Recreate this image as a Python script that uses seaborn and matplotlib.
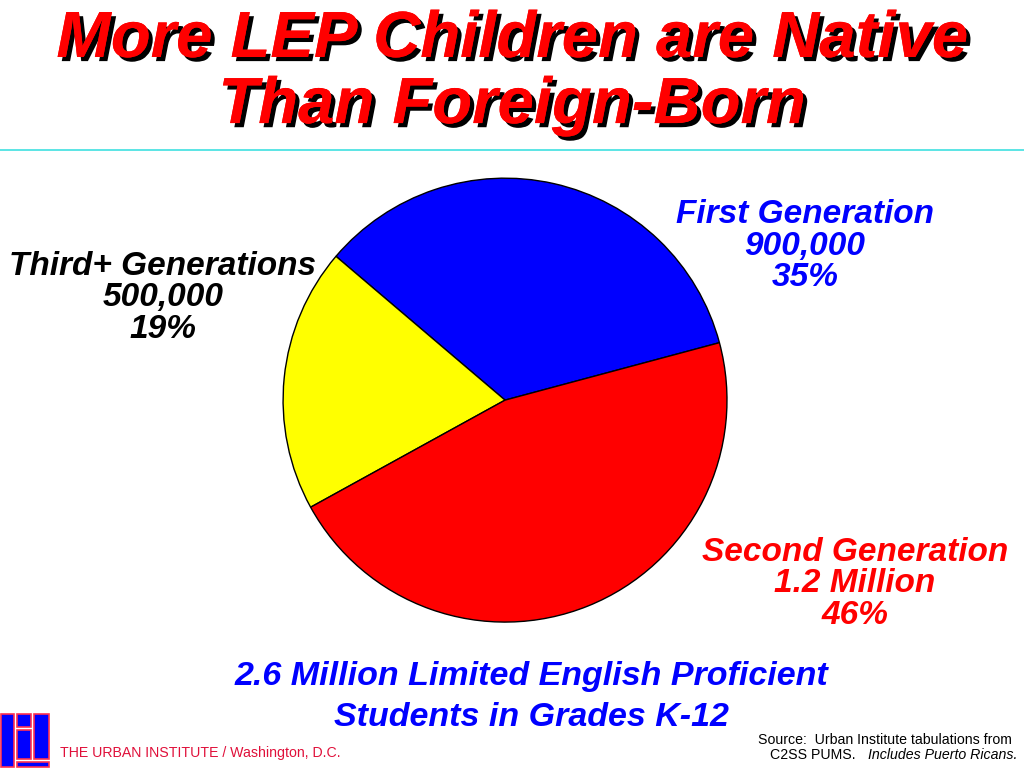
import matplotlib
matplotlib.use("Agg")
import matplotlib.pyplot as plt
import matplotlib.patheffects as pe
from matplotlib.patches import Rectangle
import seaborn as sns

sns.set_theme(style="white")
plt.rcParams['font.family'] = ['Liberation Sans', 'DejaVu Sans']

# data
groups = ["First Generation", "Third+ Generations", "Second Generation"]
counts = [900000, 500000, 1200000]
count_labels = ["900,000", "500,000", "1.2 Million"]
pct_labels = ["35%", "19%", "46%"]
colors = ["#0000ff", "#ffff00", "#ff0000"]
text_colors = ["#0000ff", "black", "#ff0000"]

fig = plt.figure(figsize=(10.24, 7.68), dpi=100)
fig.patch.set_facecolor("white")

# title with drop shadow
title = fig.text(0.5, 1 - 73/768, "More LEP Children are Native\nThan Foreign-Born",
                 ha="center", va="center", fontsize=47, fontweight="bold",
                 fontstyle="italic", color="#ff0000", linespacing=1.13)
title.set_path_effects([pe.withSimplePatchShadow(offset=(3, -3), shadow_rgbFace="black", alpha=1.0),
                        pe.Normal()])

# cyan rule under the title
fig.add_artist(plt.Line2D([0, 1], [1 - 150/768, 1 - 150/768], color="#40e0e0", lw=1.2))

# pie
ax = fig.add_axes([0.2764, 0.190, 0.4336, 0.578])
ax.pie(counts, colors=colors, startangle=15, counterclock=True,
       wedgeprops=dict(edgecolor="black", linewidth=1))
ax.set_xlim(-1, 1)
ax.set_ylim(-1, 1)
ax.set_aspect("equal")
ax.axis("off")

# slice labels
label_pos = [(805/1024, 1 - 246/768), (163/1024, 1 - 298/768), (855/1024, 1 - 584/768)]
for (x, y), g, c, p, tc in zip(label_pos, groups, count_labels, pct_labels, text_colors):
    fig.text(x, y, f"{g}\n{c}\n{p}", ha="center", va="center", fontsize=24,
             fontweight="bold", fontstyle="italic", color=tc, linespacing=1.03)

# bottom caption
fig.text(531/1024, 1 - 697/768, "2.6 Million Limited English Proficient\nStudents in Grades K-12",
         ha="center", va="center", fontsize=24.5, fontweight="bold", fontstyle="italic",
         color="#0000ff", linespacing=1.44)

# footer
fig.text(60/1024, 1 - 753/768, "THE URBAN INSTITUTE / Washington, D.C.",
         ha="left", va="center", fontsize=10.2, color="#e0103a")
fig.text(1012/1024, 1 - 740/768, "Source:  Urban Institute tabulations from",
         ha="right", va="center", fontsize=10.2, color="black")
ital = fig.text(1017/1024, 1 - 755/768, "Includes Puerto Ricans.", ha="right", va="center",
                fontsize=10.2, fontstyle="italic", color="black")
r = fig.canvas.get_renderer()
bb = ital.get_window_extent(renderer=r)
fig.text((bb.x0 - 12)/1024, 1 - 755/768, "C2SS PUMS.", ha="right", va="center",
         fontsize=10.2, color="black")

# logo
def px_rect(x0, y0, x1, y1):
    fig.add_artist(Rectangle((x0/1024, 1 - y1/768), (x1 - x0)/1024, (y1 - y0)/768,
                             facecolor="#0000ff", edgecolor="#ff3050", lw=1.2,
                             transform=fig.transFigure))

px_rect(1, 714, 14, 767)
px_rect(17, 714, 31, 727)
px_rect(17, 730, 31, 759)
px_rect(34, 714, 49, 759)
px_rect(17, 762, 49, 767)

fig.savefig("out.png", dpi=100, facecolor="white")
